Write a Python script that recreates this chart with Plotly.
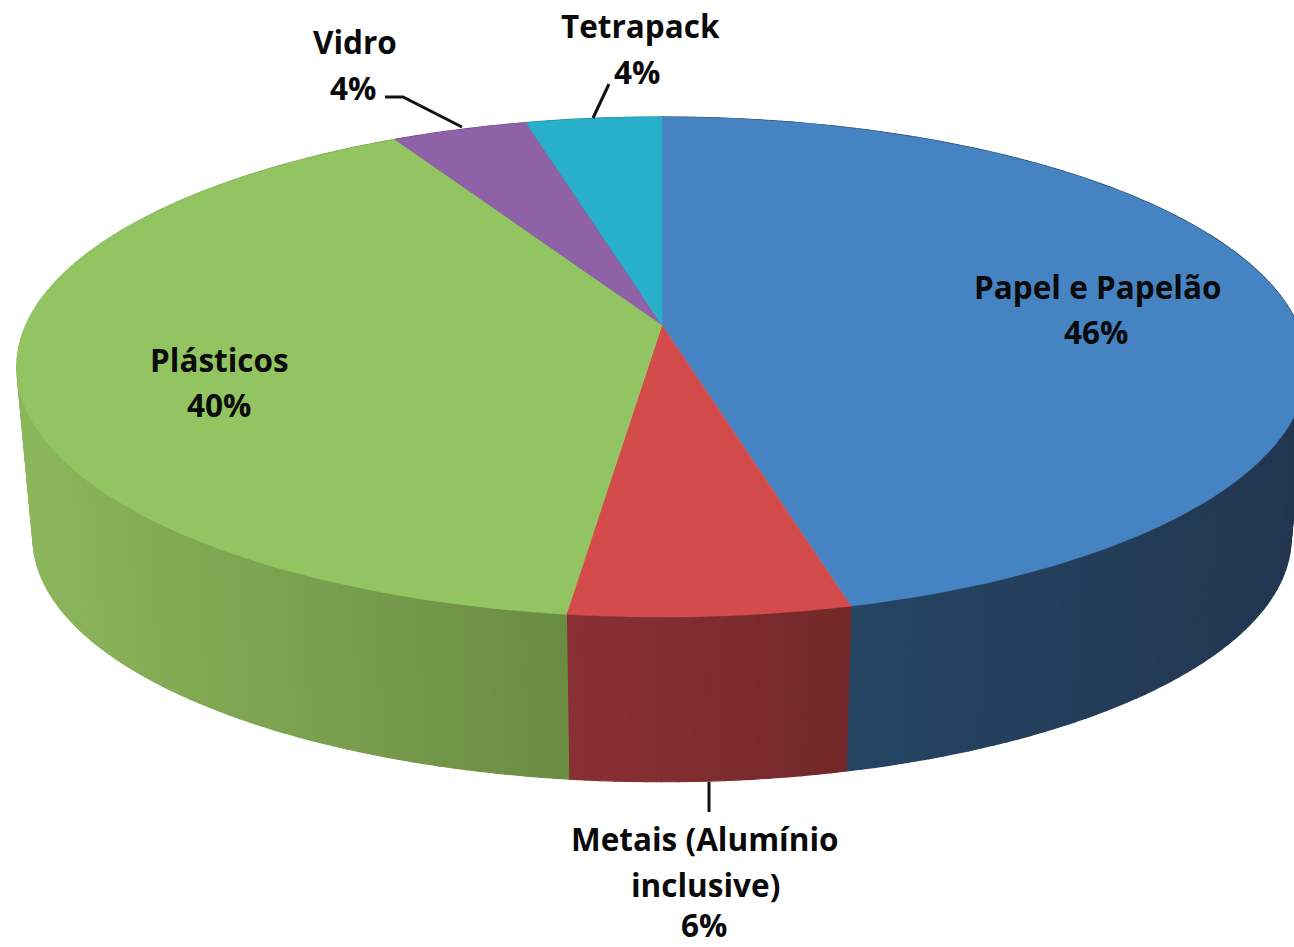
import numpy as np
import plotly.graph_objects as go

# ---- data ----
labels = ["Papel e Papelão", "Metais (Alumínio<br>inclusive)", "Plásticos", "Vidro", "Tetrapack"]
values = [46, 6, 40, 4, 4]
top_colors = ["#4683C2", "#D44B4C", "#92C562", "#8F62A7", "#28B0CB"]
# side shading: (colour at the left end, colour at the right end) of each front wall
side_colors = [("#264B6C", "#223650"), ("#8A3035", "#732829"), ("#8CB65C", "#6A8C42"),
               ("#6A4A80", "#6A4A80"), ("#1E8499", "#1E8499")]
label_pos = [(1097, 286), (705, 838), (219, 359), (355, 41), (640, 25)]
pct_pos = [(1096, 331), (704, 924), (219, 404), (353, 87), (637, 71)]

# ---- projection of the 3-D disc (perspective view, picture pixels) ----
CX, K = 662, 0.168
TOP_CY, TOP_A, TOP_B = 325, 636, 243
BOT_CY, BOT_SCALE = 497, 0.975


def project(theta, cy=TOP_CY, scale=1.0):
    u, v = np.sin(theta), np.cos(theta)
    d = 1 + K * v
    return CX + scale * TOP_A * u / d, cy - scale * TOP_B * v / d


def mix(a, b, t):
    ca = [int(a[i:i + 2], 16) for i in (1, 3, 5)]
    cb = [int(b[i:i + 2], 16) for i in (1, 3, 5)]
    return "rgb(%d,%d,%d)" % tuple(round(p + (q - p) * t) for p, q in zip(ca, cb))


fractions = np.cumsum([0] + values) / sum(values)
angles = fractions * 2 * np.pi
fig = go.Figure()


def poly(x, y, color, name, width=1.2):
    fig.add_trace(go.Scatter(x=x, y=y, mode="lines", fill="toself", fillcolor=color,
                             line=dict(color=color, width=width), name=name,
                             hoverinfo="skip", showlegend=False))


# front wall, drawn back to front, as vertical strips
for i, name in enumerate(labels):
    a0, a1 = angles[i], angles[i + 1]
    n = max(4, int(50 * (a1 - a0)))
    edges = np.linspace(a0, a1, n + 1)
    xs_mid = project(edges)[0]
    lo, hi = xs_mid.min(), xs_mid.max()
    for e0, e1 in zip(edges[:-1], edges[1:]):
        th = np.linspace(e0, e1, 6)
        xt, yt = project(th)
        xb, yb = project(th[::-1], BOT_CY, BOT_SCALE)
        t = (xt.mean() - lo) / max(hi - lo, 1)
        c = mix(side_colors[i][0], side_colors[i][1], t)
        poly(np.r_[xt, xb, xt[0]], np.r_[yt, yb, yt[0]], c, name)

# top face
for i, name in enumerate(labels):
    th = np.linspace(angles[i], angles[i + 1], 120)
    x, y = project(th)
    poly(np.r_[CX, x, CX], np.r_[TOP_CY, y, TOP_CY], top_colors[i], name, width=0.5)

# labels
font = dict(family="Open Sans", size=31.5, color="#0a0a0a", weight="bold")
for name, v, lp, pp in zip(labels, values, label_pos, pct_pos):
    if "<br>" in name:
        lines = name.split("<br>")
        for j, ln in enumerate(lines):
            fig.add_annotation(x=lp[0], y=lp[1] + 46 * j, text=ln, showarrow=False, font=font)
    else:
        fig.add_annotation(x=lp[0], y=lp[1], text=name, showarrow=False, font=font)
    fig.add_annotation(x=pp[0], y=pp[1], text=f"{v}%", showarrow=False, font=font)

# leader lines
leaders = [([709, 709], [782, 812]),
           ([385, 403, 462], [97, 97, 127]),
           ([609, 593], [84, 118])]
for lx, ly in leaders:
    fig.add_trace(go.Scatter(x=lx, y=ly, mode="lines", line=dict(color="#111111", width=3),
                             hoverinfo="skip", showlegend=False))

fig.update_layout(width=1294, height=947, margin=dict(l=0, r=0, t=0, b=0),
                  paper_bgcolor="white", plot_bgcolor="white", showlegend=False,
                  xaxis=dict(range=[0, 1294], visible=False, fixedrange=True),
                  yaxis=dict(range=[947, 0], visible=False, fixedrange=True))
fig.write_html("out.html", config={"displayModeBar": False},
               post_script="document.body.style.margin='0';document.body.style.overflow='hidden';")
